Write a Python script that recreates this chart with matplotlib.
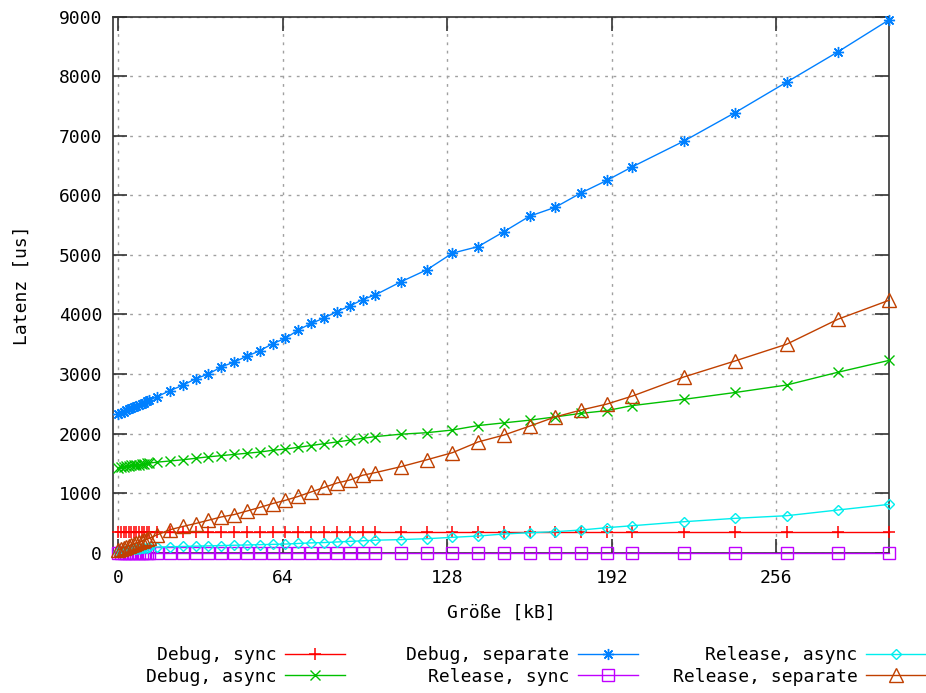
import matplotlib
matplotlib.use("Agg")
import matplotlib.pyplot as plt
from matplotlib.ticker import FixedLocator

# x positions (kB)
size_kb = [0, 1, 2, 3, 4, 5, 6, 7, 8, 9, 10, 11, 12,
           15, 20, 25, 30, 35, 40, 45, 50, 55, 60, 65, 70, 75, 80, 85, 90, 95, 100,
           110, 120, 130, 140, 150, 160, 170, 180, 190, 200,
           220, 240, 260, 280, 300]

debug_sync = [340] * len(size_kb)

debug_async = [1430, 1440, 1445, 1450, 1460, 1465, 1470, 1475, 1480, 1490, 1495, 1500, 1505,
               1520, 1540, 1560, 1585, 1610, 1630, 1650, 1670, 1690, 1720, 1740, 1770, 1800,
               1830, 1860, 1890, 1920, 1950,
               1990, 2015, 2060, 2135, 2180, 2225, 2280, 2340, 2385, 2470,
               2575, 2690, 2815, 3030, 3230]

debug_separate = [2330, 2350, 2370, 2390, 2410, 2430, 2445, 2460, 2480, 2500, 2520, 2540, 2560,
                  2620, 2720, 2810, 2920, 3000, 3120, 3200, 3300, 3390, 3510, 3600, 3740, 3850,
                  3940, 4050, 4140, 4250, 4330,
                  4550, 4750, 5030, 5140, 5390, 5650, 5800, 6040, 6250, 6480,
                  6910, 7390, 7900, 8410, 8950]

release_sync = [2] * len(size_kb)

release_async = [10, 20, 30, 40, 50, 55, 60, 65, 70, 75, 80, 85, 90,
                 95, 100, 105, 110, 115, 120, 125, 130, 135, 140, 145, 155, 165, 170, 180,
                 190, 200, 210,
                 220, 235, 258, 280, 314, 336, 353, 381, 420, 453,
                 520, 577, 621, 717, 812]

release_separate = [50, 70, 85, 100, 115, 130, 145, 160, 175, 190, 210, 225, 240,
                    300, 385, 440, 490, 545, 600, 640, 700, 760, 825, 880, 945, 1020,
                    1095, 1170, 1220, 1300, 1345,
                    1445, 1560, 1680, 1860, 1975, 2125, 2280, 2395, 2495, 2630,
                    2950, 3220, 3500, 3920, 4240]

labels = ["Debug, sync", "Debug, async", "Debug, separate",
          "Release, sync", "Release, async", "Release, separate"]
x_ticks = [0, 64, 128, 192, 256]
y_ticks = [0, 1000, 2000, 3000, 4000, 5000, 6000, 7000, 8000, 9000]

plt.rcParams['font.family'] = ['DejaVu Sans Mono']
fs = 13

fig = plt.figure(figsize=(9.26, 6.93), dpi=100)
ax = fig.add_axes([113.3 / 926, 1 - 552.7 / 693, (889.3 - 113.3) / 926, (552.7 - 16.7) / 693])

series = [
    (debug_sync, "#ff0000", dict(marker="+", markersize=8, markeredgewidth=1.1)),
    (debug_async, "#00c000", dict(marker="x", markersize=7, markeredgewidth=1.0)),
    (debug_separate, "#0080ff", dict(marker=(8, 2, 0), markersize=8, markeredgewidth=1.0)),
    (release_sync, "#c000ff", dict(marker="s", markersize=8, markeredgewidth=1.0,
                                   markerfacecolor="none")),
    (release_async, "#00eeee", dict(marker="D", markersize=5, markeredgewidth=1.0,
                                    markerfacecolor="none")),
    (release_separate, "#c04000", dict(marker="^", markersize=10, markeredgewidth=1.0,
                                       markerfacecolor="none")),
]

handles = []
for (vals, col, mk), lab in zip(series, labels):
    h, = ax.plot(size_kb, vals, color=col, lw=1.0, label=lab, markeredgecolor=col,
                 clip_on=False, zorder=3, **mk)
    handles.append(h)

ax.set_xlim(-2, 300)
ax.set_ylim(0, 9000)
ax.xaxis.set_major_locator(FixedLocator(x_ticks))
ax.yaxis.set_major_locator(FixedLocator(y_ticks))
ax.tick_params(direction="in", length=10, width=1.2, color="#333333",
               top=True, right=True, labelsize=fs)
ax.tick_params(axis="y", pad=8)
ax.tick_params(axis="x", pad=12)
ax.grid(True, color="#a0a0a0", linestyle=(0, (2, 4)), linewidth=1.0)
ax.set_axisbelow(True)
for sp in ax.spines.values():
    sp.set_color("#333333")
    sp.set_linewidth(1.2)

ax.set_xlabel("Größe [kB]", fontsize=fs, labelpad=12)
ax.set_ylabel("Latenz [us]", fontsize=fs, labelpad=20)

# legend: three right-aligned columns (text then line sample), gnuplot style
col_right_px = [345, 638, 926]
top_px = 646
for i, xr in enumerate(col_right_px):
    leg = fig.legend(handles[2 * i:2 * i + 2], labels[2 * i:2 * i + 2],
                     loc="upper right", bbox_to_anchor=(xr / 926, 1 - top_px / 693),
                     markerfirst=False, frameon=False, fontsize=fs,
                     handlelength=3.3, handletextpad=0.5,
                     labelspacing=0.2, borderaxespad=0, borderpad=0)

fig.savefig("out.png", dpi=100)
